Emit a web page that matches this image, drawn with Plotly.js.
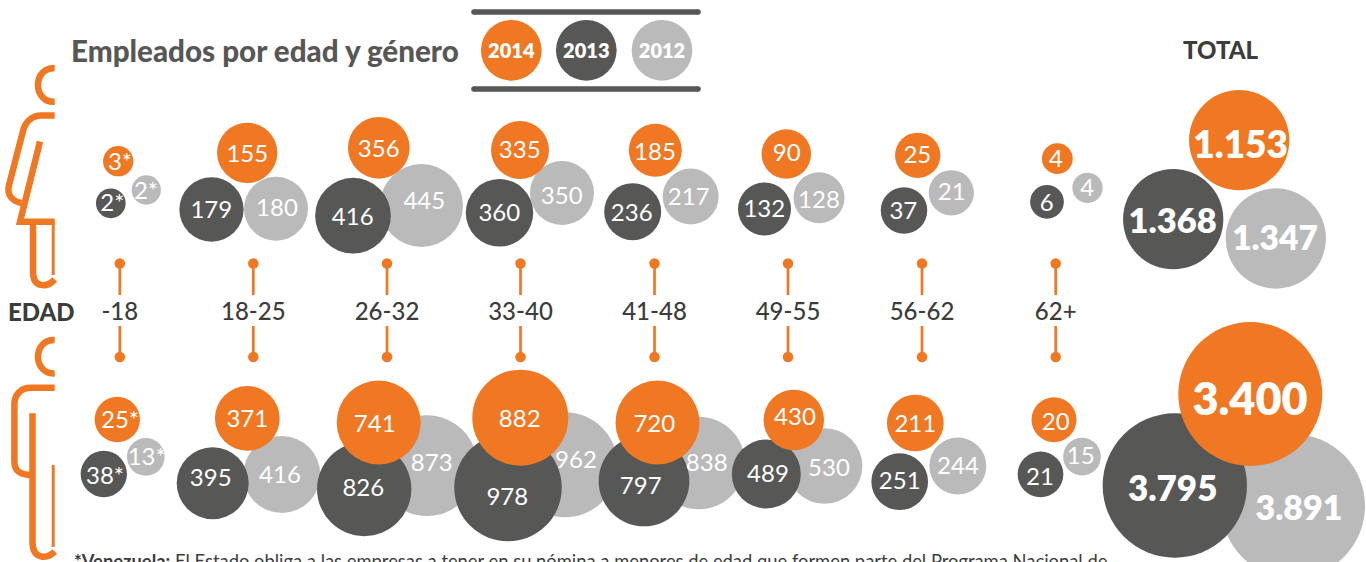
<!DOCTYPE html>
<html><head><meta charset="utf-8">
<script src="https://cdn.plot.ly/plotly-3.0.1.min.js"></script>
<style>html,body{margin:0;padding:0;background:#fff;overflow:hidden}#c{width:1366px;height:562px}</style>
</head><body><div id="c"></div>
<script>
const ages=['-18','18-25','26-32','33-40','41-48','49-55','56-62','62+'];
const ageX=[119.8,253.3,387,520.5,654.5,788,922,1055.7];

const f2014=[3,155,356,335,185,90,25,4];
const f2013=[2,179,416,360,236,132,37,6];
const f2012=[2,180,445,350,217,128,21,4];
const m2014=[25,371,741,882,720,430,211,20];
const m2013=[38,395,826,978,797,489,251,21];
const m2012=[13,416,873,962,838,530,244,15];
const fTotal=[1153,1368,1347];
const mTotal=[3400,3795,3891];

// bubble centres and diameters
const f14x=[118.2,247.2,378.8,520,655.3,786.3,917.7,1057.3], f14y=[161.2,152.8,147.8,150,150.3,154,155.3,158.7], f14d=[30.3,60.3,61.7,58,53,49.5,45.3,30.7];
const f13x=[110.8,211.5,353,499.5,632.7,764.5,904,1047], f13y=[203.3,209.5,215.7,212.8,211.7,209,210.5,201.8], f13d=[29.7,64.3,75.7,67.5,57,53,46.5,33.7];
const f12x=[146.3,276,421.5,562,690.7,819,951.3,1087.5], f12y=[190,208.7,205.5,193,196.5,197.8,192.8,187.8], f12d=[29.3,64,83,64,56,51,45.3,30.3];
const m14x=[117.3,247.3,378.7,520.3,657.5,793.8,915.3,1054], m14y=[419.5,418.3,422.5,417.7,422.5,420,423,419.7], m14d=[45.3,64.7,84,96,84,60.5,56.7,45];
const m13x=[103.8,212.7,364.2,508,644,766.3,899.7,1040.5], m13y=[474,483.3,489,487.6,481,474,481.7,474.3], m13d=[46.3,72,94.3,107.5,90.7,69,56.7,45.7];
const m12x=[145.8,281.8,427,565,698.7,824.5,957.8,1082], m12y=[456.8,474.5,465.7,464.8,463,466,466,456.7], m12d=[37.7,77,100.7,105,92.6,75.7,57,37.7];
const fTx=[1239.2,1173.2,1275.8], fTy=[140.2,219.2,238.5], fTd=[100.3,100.3,100.3];
const mTx=[1250.3,1174.8,1293], mTy=[394,485.5,506], mTd=[144,144.3,144];

// label anchors
const f14lx=[120,247.3,378.7,519.7,655,786.7,917.3,1056], f14ly=[161,153.7,148.3,149.3,151.7,152.3,154.3,158.3];
const f13lx=[112.3,211.3,352.7,499.3,631.7,764.3,903.3,1046.7], f13ly=[202.3,209.3,216.7,212.3,212.3,208.3,210.7,202.7];
const f12lx=[146,277,424.3,561.7,688.7,819,951.7,1087.3], f12ly=[190,207.3,200.7,195,196.7,199,191,187.3];
const m14lx=[120,247.3,374.7,519.7,654.3,795,915.3,1055.7], m14ly=[419.3,418,423.3,418.7,423.3,416.7,423.3,421.7];
const m13lx=[105,210.7,363.3,507.3,640.7,768,899.7,1040], m13ly=[475,477.3,487.3,496.7,485.7,473.3,480.7,476.7];
const m12lx=[146.7,280,431.7,576,706.7,829,958,1080.7], m12ly=[456,474.3,462.7,459,462,467,465,455];
const fTlx=[1240.7,1172.7,1275], fTly=[144.3,220,237.3];
const mTlx=[1250,1172.7,1299], mTly=[399,488,508];
const fTsize=[37,34.5,33.5], mTsize=[45,35,34];

const legendYears=['2014','2013','2012'], legendX=[511.3,586.3,662], legendY=[50.3,50.3,50.3], legendD=[60.7,60.7,60.7];
const ORANGE='#f07823', DARK='#575756', GRAY='#bababa', INK='#3c3c3b';
const FONT='Lato, sans-serif';
const LIFT=0.115;

const star=(v,i)=> i===0 ? v+'*' : String(v);
const thousands=v=>String(v).replace(/(\d)(\d{3})$/,'$1.$2');
function bubbles(x,y,d,color){return {type:'scatter',mode:'markers',x,y,cliponaxis:false,hoverinfo:'skip',
  marker:{size:d,color,sizemode:'diameter',line:{width:0},opacity:1}};}
function labels(x,y,text,size,weight){
  const s=i=>Array.isArray(size)?size[i]:size;
  return {type:'scatter',mode:'text',x,y:y.map((v,i)=>v+s(i)*LIFT),text,textposition:'middle center',cliponaxis:false,hoverinfo:'skip',
  textfont:{family:FONT,size,color:'#fff',weight:weight||400}};}
const one=(a,i)=>a.slice(i,i+1);

const traces=[
 bubbles(f12x,f12y,f12d,GRAY),bubbles(m12x,m12y,m12d,GRAY),bubbles(one(fTx,2),one(fTy,2),one(fTd,2),GRAY),bubbles(one(mTx,2),one(mTy,2),one(mTd,2),GRAY),
 bubbles(f13x,f13y,f13d,DARK),bubbles(m13x,m13y,m13d,DARK),bubbles(one(fTx,1),one(fTy,1),one(fTd,1),DARK),bubbles(one(mTx,1),one(mTy,1),one(mTd,1),DARK),
 bubbles(f14x,f14y,f14d,ORANGE),bubbles(m14x,m14y,m14d,ORANGE),bubbles(one(fTx,0),one(fTy,0),one(fTd,0),ORANGE),bubbles(one(mTx,0),one(mTy,0),one(mTd,0),ORANGE),
 bubbles(legendX,legendY,legendD,[ORANGE,DARK,GRAY]),
 labels(f14lx,f14ly,f2014.map(star),24),labels(f13lx,f13ly,f2013.map(star),24),labels(f12lx,f12ly,f2012.map(star),24),
 labels(m14lx,m14ly,m2014.map(star),24),labels(m13lx,m13ly,m2013.map(star),24),labels(m12lx,m12ly,m2012.map(star),24),
 labels(fTlx,fTly,fTotal.map(thousands),fTsize,800),
 labels(mTlx,mTly,mTotal.map(thousands),mTsize,800),
 labels(legendX,legendY,legendYears,20,800),
 {type:'scatter',mode:'text',x:ageX,y:ageX.map(()=>314),text:ages,textposition:'middle center',cliponaxis:false,hoverinfo:'skip',
  textfont:{family:FONT,size:24,color:INK,weight:500}},
 {type:'scatter',mode:'markers',x:ageX.concat(ageX),y:ageX.map(()=>263.5).concat(ageX.map(()=>357)),cliponaxis:false,hoverinfo:'skip',
  marker:{size:10.5,color:ORANGE,line:{width:0}}},
 {type:'scatter',mode:'markers',x:[474,698,474,698],y:[12,12,89,89],cliponaxis:false,hoverinfo:'skip',marker:{size:5.6,color:DARK,line:{width:0}}}
];

const stroke=(path,w)=>({type:'path',path,xref:'x',yref:'y',layer:'below',line:{color:ORANGE,width:w||6.5},fillcolor:'rgba(0,0,0,0)'});
const shapes=[
 {type:'line',x0:474,x1:698,y0:12,y1:12,xref:'x',yref:'y',line:{color:DARK,width:5.6}},
 {type:'line',x0:474,x1:698,y0:89,y1:89,xref:'x',yref:'y',line:{color:DARK,width:5.6}},
 // woman
 stroke('M54.7,68.2 C44,67.6 38,76 38,85 C38,94 44,102.4 54.7,101.8'),
 stroke('M54.7,115.5 L41,115.5 C32,115.5 25,122 23,131 L8.8,186 C7,195 12,201 21.5,203'),
 stroke('M40,141.5 L20,221.7 L54.7,221.7'),
 stroke('M33,221.7 L33,272 C33,288 47,288 54.7,279.5'),
 stroke('M53.2,221.7 L53.2,275',3),
 // man
 stroke('M54.7,340 C44,339.4 38,348 38,356.8 C38,365.6 44,374 54.7,373.4'),
 stroke('M54.7,387.8 L31,387.8 C21,387.8 14.4,394.5 14.4,404 L14.4,462 C14.4,471 20,475 32.5,475'),
 stroke('M32.5,413.3 L32.5,542 C32.5,559.5 47,559.5 54.7,551.5'),
 stroke('M53.2,465 L53.2,547',3)
];
ageX.forEach(x=>{
 shapes.push({type:'line',x0:x,x1:x,y0:263,y1:295,xref:'x',yref:'y',line:{color:ORANGE,width:2.7}});
 shapes.push({type:'line',x0:x,x1:x,y0:326,y1:357,xref:'x',yref:'y',line:{color:ORANGE,width:2.7}});
});

const note=(x,y,text,size,color,anchor,weight)=>({x,y,xref:'x',yref:'y',text,showarrow:false,xanchor:anchor||'center',yanchor:'middle',
  font:{family:FONT,size,color,weight:weight||400},align:'left'});
const annotations=[
 note(69,50,'Empleados por edad y género',29.6,DARK,'left',900),
 note(1220.5,49.5,'TOTAL',24,INK,'center',900),
 note(41.5,311.5,'EDAD',24,INK,'center',900),
 note(72,561,'<b>*Venezuela:</b> El Estado obliga a las empresas a tener en su nómina a menores de edad que formen parte del Programa Nacional de',18.37,INK,'left')
];

Plotly.newPlot('c',traces,{
 width:1366,height:562,margin:{l:0,r:0,t:0,b:0},paper_bgcolor:'#fff',plot_bgcolor:'#fff',showlegend:false,hovermode:false,
 xaxis:{range:[0,1366],visible:false,fixedrange:true},
 yaxis:{range:[562,0],visible:false,fixedrange:true},
 shapes,annotations
},{displayModeBar:false,staticPlot:true});
</script></body></html>
